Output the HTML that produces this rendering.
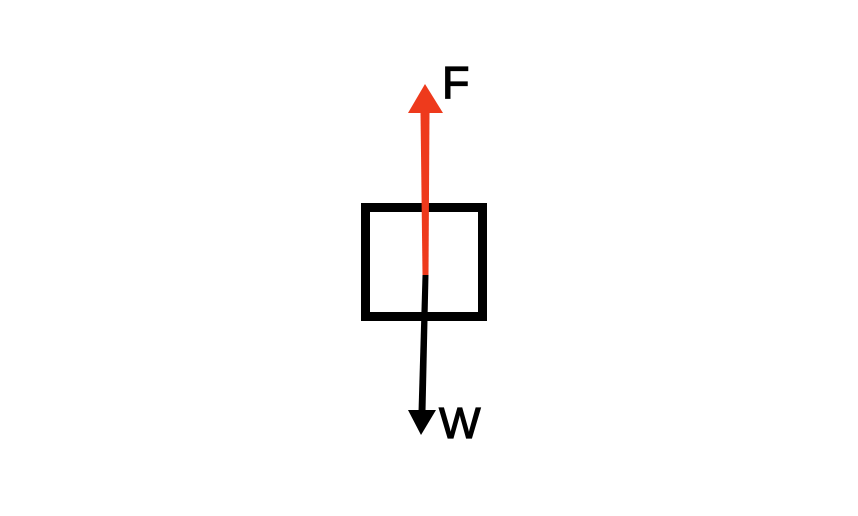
<!DOCTYPE html>
<html><head><style>
html,body{margin:0;padding:0;background:#fff;}
</style></head><body>
<svg width="858" height="516" xmlns="http://www.w3.org/2000/svg" style="display:block">
<rect x="0" y="0" width="858" height="516" fill="#fff"/>
<rect x="365.5" y="207.5" width="117" height="109" fill="none" stroke="#000" stroke-width="9"/>
<polygon points="420.5,112 429.5,112 428.5,275 422.5,275" fill="#ee3a1c"/>
<polygon points="425,84 443,113 408,113" fill="#ee3a1c"/>
<polygon points="422.5,275 428.5,275 425.5,412 418.5,412" fill="#000"/>
<polygon points="408,410 436,410 421,435" fill="#000"/>
<text x="442" y="98" font-family="Liberation Sans, sans-serif" font-size="45" fill="#000" stroke="#000" stroke-width="1.2">F</text>
<text x="439" y="438" font-family="Liberation Sans, sans-serif" font-size="44" fill="#000" stroke="#000" stroke-width="1.2">W</text>
</svg>
</body></html>
